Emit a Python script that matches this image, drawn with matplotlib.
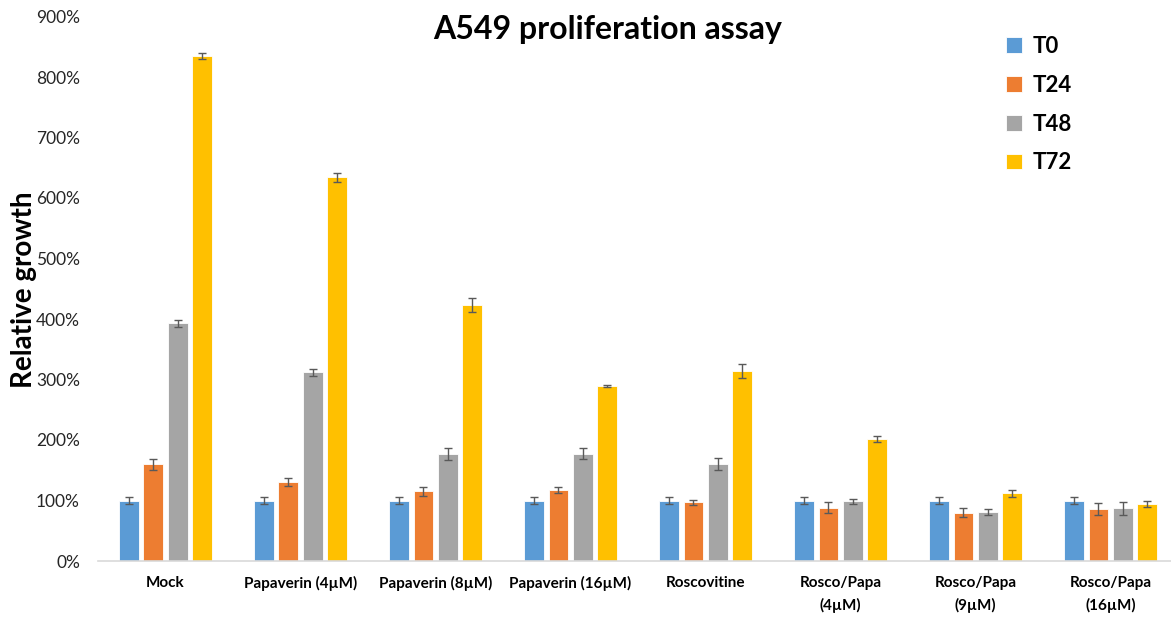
import matplotlib
matplotlib.use("Agg")
import matplotlib.pyplot as plt
import numpy as np
from matplotlib.ticker import FuncFormatter

plt.rcParams['font.family'] = ['Lato', 'DejaVu Sans']

categories = ["Mock", "Papaverin (4µM)", "Papaverin (8µM)", "Papaverin (16µM)",
              "Roscovitine", "Rosco/Papa\n(4µM)", "Rosco/Papa\n(9µM)", "Rosco/Papa\n(16µM)"]
series_names = ["T0", "T24", "T48", "T72"]
t0 = [100, 100, 100, 100, 100, 100, 100, 100]
t24 = [160, 131, 115, 117, 97, 88, 80, 86]
t48 = [393, 312, 177, 177, 160, 99, 81, 87]
t72 = [834, 634, 423, 289, 314, 202, 112, 95]
t0_err = [6, 6, 6, 6, 6, 6, 6, 6]
t24_err = [9, 7, 8, 5, 4, 9, 7, 10]
t48_err = [6, 6, 10, 9, 10, 4, 5, 11]
t72_err = [5, 7, 11, 1.5, 11, 5, 6, 5]
colors = ["#5B9BD5", "#ED7D31", "#A5A5A5", "#FFC000"]

values = [t0, t24, t48, t72]
errors = [t0_err, t24_err, t48_err, t72_err]

fig = plt.figure(figsize=(11.71, 6.18), dpi=100)
ax = fig.add_axes([98/1171, 57/618, 1073/1171, 544.5/618])

x = np.arange(len(categories))
step = 0.181
width = 0.145
for i, (vals, errs, c, name) in enumerate(zip(values, errors, colors, series_names)):
    ax.bar(x + (i - 1.5) * step, vals, width, color=c, label=name,
           edgecolor='white', linewidth=0.6, zorder=2,
           yerr=errs, error_kw=dict(ecolor='#595959', elinewidth=1.0, capsize=3, capthick=1.0, zorder=3))

ax.set_xlim(-0.5, 7.448)
ax.set_ylim(0, 900)
ax.set_yticks(np.arange(0, 901, 100))
ax.yaxis.set_major_formatter(FuncFormatter(lambda v, p: f"{int(v)}%"))
ax.set_xticks(x)
ax.set_xticklabels(categories, fontsize=11, fontweight='bold', linespacing=1.6)
ax.tick_params(axis='x', length=0, pad=11)
ax.tick_params(axis='y', length=0, labelsize=12.5, pad=13, labelcolor='#262626')
for s in ['top', 'right', 'left']:
    ax.spines[s].set_visible(False)
ax.spines['bottom'].set_color('#d9d9d9')
ax.spines['bottom'].set_linewidth(1.2)

fig.text(608/1171, 1 - 30/618, "A549 proliferation assay", ha='center', va='center',
         fontsize=23, fontweight='bold')
fig.text(24/1171, 1 - 290/618, "Relative growth", ha='center', va='center',
         rotation=90, fontsize=20, fontweight='bold')

leg = ax.legend(loc='upper left', bbox_to_anchor=(986/1171, 1 - 16/618),
                bbox_transform=fig.transFigure, frameon=False,
                prop=dict(size=16, weight='bold'), handlelength=0.7, handleheight=0.7,
                handletextpad=0.5, labelspacing=0.8)

fig.savefig("out.png", dpi=100)
